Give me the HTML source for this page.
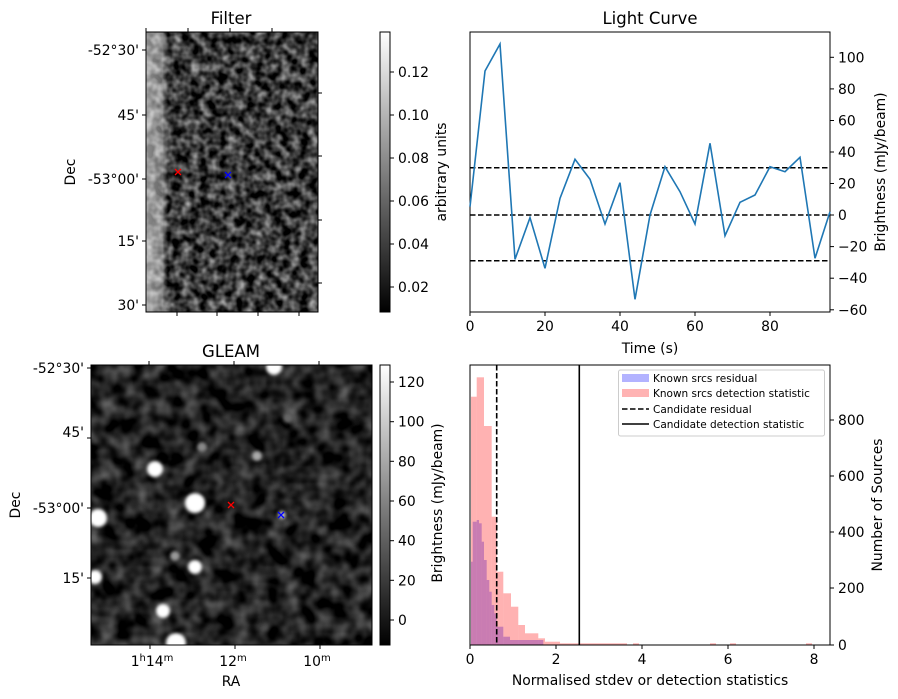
<!DOCTYPE html>
<html><head><meta charset="utf-8"><style>body{margin:0;background:#fff}svg{display:block}text{font-family:"DejaVu Sans","Liberation Sans",sans-serif;font-size:13.9px;fill:#000}</style></head><body>
<svg width="898" height="699" viewBox="0 0 898 699" xmlns="http://www.w3.org/2000/svg">
<defs>
<filter id="nf" x="0" y="0" width="100%" height="100%" color-interpolation-filters="sRGB"><feTurbulence type="fractalNoise" baseFrequency="0.11" numOctaves="2" seed="3"/><feColorMatrix type="matrix" values="1.1 0 0 0 -0.32 1.1 0 0 0 -0.32 1.1 0 0 0 -0.32 0 0 0 0 1"/></filter>
<filter id="ng" x="0" y="0" width="100%" height="100%" color-interpolation-filters="sRGB"><feTurbulence type="fractalNoise" baseFrequency="0.06" numOctaves="2" seed="7"/><feColorMatrix type="matrix" values="0.7 0 0 0 -0.22 0.7 0 0 0 -0.22 0.7 0 0 0 -0.22 0 0 0 0 1"/></filter>
<filter id="bl"><feGaussianBlur stdDeviation="1.5"/></filter>
<linearGradient id="cb" x1="0" y1="1" x2="0" y2="0"><stop offset="0" stop-color="#000"/><stop offset="1" stop-color="#fff"/></linearGradient>
<linearGradient id="st" x1="0" y1="0" x2="1" y2="0"><stop offset="0" stop-color="#fff" stop-opacity="0.55"/><stop offset="0.75" stop-color="#fff" stop-opacity="0.4"/><stop offset="1" stop-color="#fff" stop-opacity="0"/></linearGradient>
</defs>
<!-- Filter image -->
<rect x="146" y="32" width="172" height="280" filter="url(#nf)"/>
<rect x="146" y="32" width="22" height="280" fill="url(#st)"/>
<rect x="146" y="32" width="172" height="280" fill="none" stroke="#000"/>
<g stroke="#000"><line x1="146" y1="50" x2="142" y2="50"/><line x1="146" y1="115" x2="142" y2="115"/><line x1="146" y1="179" x2="142" y2="179"/><line x1="146" y1="241" x2="142" y2="241"/><line x1="146" y1="305" x2="142" y2="305"/>
<line x1="177" y1="312" x2="177" y2="316"/><line x1="217" y1="312" x2="217" y2="316"/><line x1="258" y1="312" x2="258" y2="316"/><line x1="299" y1="312" x2="299" y2="316"/>
<line x1="146" y1="32" x2="146" y2="28"/><line x1="188" y1="32" x2="188" y2="28"/><line x1="230" y1="32" x2="230" y2="28"/><line x1="272" y1="32" x2="272" y2="28"/>
<line x1="318" y1="93" x2="322" y2="93"/><line x1="318" y1="156" x2="322" y2="156"/><line x1="318" y1="220" x2="322" y2="220"/><line x1="318" y1="283" x2="322" y2="283"/></g>
<g text-anchor="end"><text x="139" y="55">-52°30'</text><text x="139" y="120">45'</text><text x="139" y="184">-53°00'</text><text x="139" y="246">15'</text><text x="139" y="310">30'</text></g>
<text x="231" y="24" text-anchor="middle" style="font-size:16.5px">Filter</text>
<text transform="translate(75,172) rotate(-90)" text-anchor="middle">Dec</text>
<g stroke-width="1.3"><path d="M175 169l6 6M181 169l-6 6" stroke="red"/><path d="M225 172l6 6M231 172l-6 6" stroke="blue"/></g>
<!-- colorbar 1 -->
<rect x="380" y="32" width="10" height="280" fill="url(#cb)" stroke="#000"/>
<g stroke="#000"><line x1="390" y1="72" x2="394" y2="72"/><line x1="390" y1="115" x2="394" y2="115"/><line x1="390" y1="158" x2="394" y2="158"/><line x1="390" y1="201" x2="394" y2="201"/><line x1="390" y1="244" x2="394" y2="244"/><line x1="390" y1="287" x2="394" y2="287"/></g>
<g><text x="398" y="77">0.12</text><text x="398" y="120">0.10</text><text x="398" y="163">0.08</text><text x="398" y="206">0.06</text><text x="398" y="249">0.04</text><text x="398" y="292">0.02</text></g>
<text transform="translate(446,172) rotate(-90)" text-anchor="middle">arbitrary units</text>
<!-- Light curve -->
<rect x="470" y="32" width="360" height="280" fill="none" stroke="#000"/>
<g stroke="#000" stroke-width="1.5" stroke-dasharray="5.5,2.5"><line x1="470" y1="167.7" x2="830" y2="167.7"/><line x1="470" y1="215" x2="830" y2="215"/><line x1="470" y1="260.7" x2="830" y2="260.7"/></g>
<polyline fill="none" stroke="#1f77b4" stroke-width="1.6" points="470,206.7 485,71 500,44 515,259.3 530,217.7 545,268.3 560,198.3 575,159.3 590,179.3 605,224 620,182.7 635,299.3 650,215 665,166.7 680,191.7 695,224 710,143.3 725,235.7 740,202.3 755,195 770,166.7 785,171.7 800,157.3 815,258.3 830,211.7"/>
<g stroke="#000"><line x1="470" y1="312" x2="470" y2="316"/><line x1="545" y1="312" x2="545" y2="316"/><line x1="620" y1="312" x2="620" y2="316"/><line x1="695" y1="312" x2="695" y2="316"/><line x1="770" y1="312" x2="770" y2="316"/>
<line x1="830" y1="57.3" x2="834" y2="57.3"/><line x1="830" y1="88.9" x2="834" y2="88.9"/><line x1="830" y1="120.5" x2="834" y2="120.5"/><line x1="830" y1="152" x2="834" y2="152"/><line x1="830" y1="183.5" x2="834" y2="183.5"/><line x1="830" y1="215" x2="834" y2="215"/><line x1="830" y1="246.6" x2="834" y2="246.6"/><line x1="830" y1="278.2" x2="834" y2="278.2"/><line x1="830" y1="309.8" x2="834" y2="309.8"/></g>
<g text-anchor="middle"><text x="470" y="331">0</text><text x="545" y="331">20</text><text x="620" y="331">40</text><text x="695" y="331">60</text><text x="770" y="331">80</text></g>
<g><text x="838" y="62.3">100</text><text x="838" y="93.9">80</text><text x="838" y="125.5">60</text><text x="838" y="157">40</text><text x="838" y="188.5">20</text><text x="838" y="220">0</text><text x="838" y="251.6">−20</text><text x="838" y="283.2">−40</text><text x="838" y="314.8">−60</text></g>
<text x="650" y="353" text-anchor="middle">Time (s)</text>
<text x="650" y="24" text-anchor="middle" style="font-size:16.5px">Light Curve</text>
<text transform="translate(885,172) rotate(-90)" text-anchor="middle">Brightness (mJy/beam)</text>
<!-- GLEAM -->
<svg x="91" y="365" width="281" height="280" viewBox="91 365 281 280">
<rect x="91" y="365" width="281" height="280" filter="url(#ng)"/>
<g fill="#fff" filter="url(#bl)"><circle cx="155" cy="469" r="8"/><circle cx="195" cy="503" r="10"/><circle cx="98" cy="518" r="9"/><circle cx="95" cy="577" r="7"/><circle cx="195" cy="567" r="7"/><circle cx="163" cy="611" r="7"/><circle cx="176" cy="643" r="10"/><circle cx="274" cy="367" r="8"/></g>
<g fill="#aaa" filter="url(#bl)"><circle cx="257" cy="456" r="5"/><circle cx="202" cy="447" r="5" fill="#888"/><circle cx="175" cy="556" r="5" fill="#999"/><circle cx="282" cy="515" r="4" fill="#bbb"/><circle cx="288" cy="418" r="5" fill="#666"/></g>
</svg>
<rect x="91" y="365" width="281" height="280" fill="none" stroke="#000"/>
<g stroke="#000"><line x1="91" y1="368" x2="87" y2="368"/><line x1="91" y1="438" x2="87" y2="438"/><line x1="91" y1="508" x2="87" y2="508"/><line x1="91" y1="578" x2="87" y2="578"/>
<line x1="150" y1="645" x2="150" y2="649"/><line x1="235" y1="645" x2="235" y2="649"/><line x1="320" y1="645" x2="320" y2="649"/>
<line x1="149" y1="365" x2="149" y2="361"/><line x1="234" y1="365" x2="234" y2="361"/><line x1="319" y1="365" x2="319" y2="361"/></g>
<g text-anchor="end"><text x="84" y="373">-52°30'</text><text x="84" y="437">45'</text><text x="84" y="513">-53°00'</text><text x="84" y="583">15'</text></g>
<g text-anchor="middle"><text x="152" y="666">1<tspan dy="-5" style="font-size:10px">h</tspan><tspan dy="5">14</tspan><tspan dy="-5" style="font-size:10px">m</tspan></text><text x="233" y="666">12<tspan dy="-5" style="font-size:10px">m</tspan></text><text x="317" y="666">10<tspan dy="-5" style="font-size:10px">m</tspan></text></g>
<text x="231" y="686" text-anchor="middle">RA</text>
<text x="231" y="357" text-anchor="middle" style="font-size:16.5px">GLEAM</text>
<text transform="translate(20,505) rotate(-90)" text-anchor="middle">Dec</text>
<g stroke-width="1.3"><path d="M228 502l6 6M234 502l-6 6" stroke="red"/><path d="M278 512l6 6M284 512l-6 6" stroke="blue"/></g>
<!-- colorbar 2 -->
<rect x="380" y="365" width="10" height="280" fill="url(#cb)" stroke="#000"/>
<g stroke="#000"><line x1="390" y1="382" x2="394" y2="382"/><line x1="390" y1="421.7" x2="394" y2="421.7"/><line x1="390" y1="461.3" x2="394" y2="461.3"/><line x1="390" y1="501" x2="394" y2="501"/><line x1="390" y1="540.7" x2="394" y2="540.7"/><line x1="390" y1="580.3" x2="394" y2="580.3"/><line x1="390" y1="620" x2="394" y2="620"/></g>
<g><text x="398" y="387">120</text><text x="398" y="426.7">100</text><text x="398" y="466.3">80</text><text x="398" y="506">60</text><text x="398" y="545.7">40</text><text x="398" y="585.3">20</text><text x="398" y="625">0</text></g>
<text transform="translate(442,503) rotate(-90)" text-anchor="middle">Brightness (mJy/beam)</text>
<!-- Histogram -->
<g fill="#0000ff" fill-opacity="0.3">
<rect x="471" y="561.7" width="1.7" height="83.3"/><rect x="472.7" y="521.7" width="4" height="123.3"/><rect x="476.7" y="520" width="2.3" height="125"/><rect x="479" y="523.3" width="2.7" height="121.7"/><rect x="481.7" y="541.7" width="2.3" height="103.3"/><rect x="484" y="560" width="2.7" height="85"/><rect x="486.7" y="580" width="2.6" height="65"/><rect x="489.3" y="591.7" width="2.4" height="53.3"/><rect x="491.7" y="605" width="2.6" height="40"/><rect x="494.3" y="613.3" width="2.4" height="31.7"/><rect x="496.7" y="626.7" width="6.6" height="18.3"/><rect x="503.3" y="636.7" width="6.7" height="8.3"/><rect x="510" y="640" width="33.3" height="5"/></g>
<g fill="#ff0000" fill-opacity="0.3">
<rect x="471" y="396.7" width="5.7" height="248.3"/><rect x="476.7" y="377.3" width="7.3" height="267.7"/><rect x="484" y="426" width="7.7" height="219"/><rect x="491.7" y="516.7" width="5" height="128.3"/><rect x="496.7" y="571.7" width="6.6" height="73.3"/><rect x="503.3" y="593.3" width="7.7" height="51.7"/><rect x="511" y="606.7" width="7.3" height="38.3"/><rect x="518.3" y="625" width="6.7" height="20"/><rect x="525" y="633.3" width="13.3" height="11.7"/><rect x="538.3" y="638.3" width="6.7" height="6.7"/><rect x="545" y="641.7" width="15" height="3.3"/><rect x="560" y="643.3" width="67" height="1.7"/><rect x="633" y="643.3" width="6" height="1.7"/><rect x="710" y="643.3" width="6" height="1.7"/><rect x="730" y="643.3" width="6" height="1.7"/><rect x="806" y="643.3" width="6" height="1.7"/></g>
<line x1="496.7" y1="365" x2="496.7" y2="645" stroke="#000" stroke-width="1.6" stroke-dasharray="5.5,2.5"/>
<line x1="579.3" y1="365" x2="579.3" y2="645" stroke="#000" stroke-width="1.6"/>
<rect x="470" y="365" width="360" height="280" fill="none" stroke="#000"/>
<g stroke="#000"><line x1="470" y1="645" x2="470" y2="649"/><line x1="556" y1="645" x2="556" y2="649"/><line x1="642" y1="645" x2="642" y2="649"/><line x1="728" y1="645" x2="728" y2="649"/><line x1="814" y1="645" x2="814" y2="649"/>
<line x1="830" y1="420" x2="834" y2="420"/><line x1="830" y1="476" x2="834" y2="476"/><line x1="830" y1="532" x2="834" y2="532"/><line x1="830" y1="588" x2="834" y2="588"/><line x1="830" y1="645" x2="834" y2="645"/></g>
<g text-anchor="middle"><text x="470" y="664">0</text><text x="556" y="664">2</text><text x="642" y="664">4</text><text x="728" y="664">6</text><text x="814" y="664">8</text></g>
<g><text x="838" y="425">800</text><text x="838" y="481">600</text><text x="838" y="537">400</text><text x="838" y="593">200</text><text x="838" y="650">0</text></g>
<text x="650" y="685" text-anchor="middle">Normalised stdev or detection statistics</text>
<text transform="translate(882,505) rotate(-90)" text-anchor="middle">Number of Sources</text>
<rect x="618.5" y="370" width="206" height="66" rx="2" fill="#fff" fill-opacity="0.8" stroke="#ccc"/>
<rect x="622" y="374" width="27" height="8" fill="#b3b3ff"/>
<rect x="622" y="389" width="27" height="8" fill="#ffb3b3"/>
<line x1="622" y1="409" x2="649" y2="409" stroke="#000" stroke-width="1.6" stroke-dasharray="5.5,2.5"/>
<line x1="622" y1="424" x2="649" y2="424" stroke="#000" stroke-width="1.6"/>
<g><text x="653" y="382" style="font-size:10.5px">Known srcs residual</text><text x="653" y="397" style="font-size:10.5px">Known srcs detection statistic</text><text x="653" y="413" style="font-size:10.5px">Candidate residual</text><text x="653" y="428" style="font-size:10.5px">Candidate detection statistic</text></g>
</svg>
</body></html>
